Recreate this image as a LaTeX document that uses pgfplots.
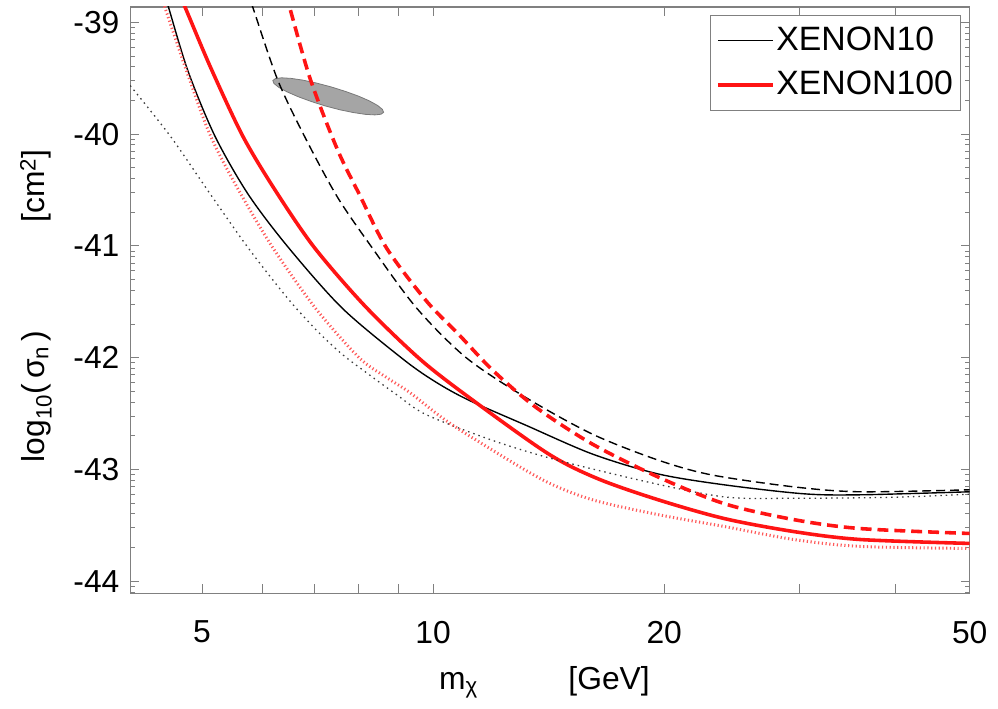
\documentclass[border=0pt]{standalone}
\usepackage{fontspec}
\setmainfont{Liberation Sans}
\usepackage{pgfplots}
\pgfplotsset{compat=1.18}
\definecolor{axgray}{RGB}{128,128,128}
\definecolor{ellfill}{RGB}{165,165,165}
\definecolor{elledge}{RGB}{120,120,120}
\definecolor{xred}{RGB}{255,20,20}
\definecolor{xreddot}{RGB}{255,90,90}
\definecolor{blkdot}{RGB}{60,60,60}
\begin{document}
\fontsize{32}{38}\selectfont
\begin{tikzpicture}
\begin{axis}[
  scale only axis, width=845pt, height=590pt,
  xmode=log, xmin=4.03, xmax=50, ymin=-44.107, ymax=-38.862,
  axis line style={axgray, line width=1.3pt},
  tick style={axgray, line width=1pt},
  tick align=inside,
  xtick={5,6,7,8,9,10,20,30,40,50},
  xticklabels={5,,,,,10,20,,,50},
  minor xtick={},
  ytick={-44,-43,-42,-41,-40,-39},
  yticklabels={-44,-43,-42,-41,-40,-39},
  minor ytick={-44.09691,-44.04576,
    -43.69897,-43.52288,-43.39794,-43.30103,-43.22185,-43.15490,-43.09691,-43.04576,
    -42.69897,-42.52288,-42.39794,-42.30103,-42.22185,-42.15490,-42.09691,-42.04576,
    -41.69897,-41.52288,-41.39794,-41.30103,-41.22185,-41.15490,-41.09691,-41.04576,
    -40.69897,-40.52288,-40.39794,-40.30103,-40.22185,-40.15490,-40.09691,-40.04576,
    -39.69897,-39.52288,-39.39794,-39.30103,-39.22185,-39.15490,-39.09691,-39.04576},
  major tick length=9pt, minor tick length=4.5pt,
  tick label style={font=\fontsize{32}{38}\selectfont},
  xticklabel style={yshift=-17pt},
  xlabel={m\textsubscript{χ}\hspace{2.85em}[GeV]},
  xlabel style={at={(axis description cs:0.4935,-0.1644)}, anchor=base},
  ylabel={log\textsubscript{10}(\,σ\textsubscript{n}\,)\hspace{3.4em}[cm\textsuperscript{2}]},
  ylabel style={at={(axis description cs:-0.1018,0.49)}, anchor=base},
  label style={font=\fontsize{32}{38}\selectfont},
  legend style={at={(axis description cs:0.990,0.986)}, anchor=north east,
    draw=axgray, line width=1pt, font=\fontsize{34}{40}\selectfont,
    inner xsep=6pt, inner ysep=9pt, row sep=12pt},
  legend cell align=left,
  legend image code/.code={\draw[#1] (0pt,0pt) -- (55pt,0pt);},
  clip=true,
]
% gray ellipse
\addplot[fill=ellfill, draw=elledge, line width=0.8pt, forget plot] coordinates {
(8.618,-39.805) (8.552,-39.822) (8.393,-39.828) (8.162,-39.823) (7.875,-39.807)
(7.559,-39.782) (7.239,-39.748) (6.937,-39.708) (6.670,-39.665) (6.453,-39.622)
(6.296,-39.582) (6.204,-39.547) (6.183,-39.520) (6.231,-39.503) (6.347,-39.496)
(6.528,-39.501) (6.767,-39.517) (7.047,-39.543) (7.360,-39.577) (7.681,-39.617)
(7.988,-39.659) (8.256,-39.702) (8.463,-39.743) (8.587,-39.778) (8.618,-39.805)
} -- cycle;
% XENON10 solid
\addplot[black, line width=1.4pt, smooth, tension=0.5] coordinates {
(4.40,-38.60) (4.52,-38.862) (4.796,-39.44) (5.197,-40.018) (5.735,-40.533)
(6.46,-41.004) (7.61,-41.556) (9.155,-42.018) (10.10,-42.222) (11.14,-42.382)
(13.20,-42.604) (16.12,-42.862) (19.63,-43.040) (23.96,-43.138) (30.4,-43.218)
(36.0,-43.227) (50,-43.20)
};
\addlegendentry{XENON10}
% XENON100 solid
\addplot[xred, line width=3.6pt, smooth, tension=0.5] coordinates {
(4.57,-38.60) (4.75,-38.862) (5.13,-39.404) (5.65,-40.018) (6.233,-40.507)
(7.00,-41.013) (8.15,-41.538) (9.63,-42.018) (11.27,-42.382) (14.14,-42.862)
(16.4,-43.084) (19.63,-43.271) (23.96,-43.44) (29.5,-43.556) (36.0,-43.627)
(50,-43.662)
};
\addlegendentry{XENON100}
% XENON10 dotted
\addplot[blkdot, line width=1.3pt, dash pattern=on 1.5pt off 4pt, smooth, tension=0.5, forget plot] coordinates {
(4.03,-39.565) (4.546,-40.018) (5.09,-40.507) (5.735,-41.013) (6.46,-41.467)
(7.07,-41.764) (7.61,-41.969) (8.20,-42.138) (8.97,-42.333) (9.80,-42.511)
(11.97,-42.742) (14.57,-42.92) (19.63,-43.133) (24.17,-43.249) (29.5,-43.258)
(39.76,-43.249) (50,-43.222)
};
% XENON100 dotted
\addplot[xreddot, line width=3pt, dash pattern=on 1.2pt off 2.6pt, smooth, tension=0.5, forget plot] coordinates {
(4.34,-38.60) (4.47,-38.862) (4.80,-39.484) (5.13,-40.018) (5.567,-40.489)
(6.178,-41.013) (7.024,-41.556) (8.007,-42.0) (8.70,-42.178) (9.32,-42.311)
(10.25,-42.533) (11.27,-42.72) (13.89,-43.093) (16.12,-43.271) (19.63,-43.404)
(23.96,-43.511) (29.5,-43.627) (36.0,-43.689) (50,-43.707)
};
% XENON10 dashed
\addplot[black, line width=1.4pt, dash pattern=on 9pt off 5pt, smooth, tension=0.5, forget plot] coordinates {
(5.65,-38.60) (5.82,-38.862) (6.27,-39.511) (6.797,-40.018) (7.50,-40.56)
(8.32,-41.013) (9.515,-41.556) (11.04,-42.0) (13.20,-42.356) (16.12,-42.684)
(19.63,-42.916) (23.05,-43.049) (29.5,-43.156) (36.0,-43.20) (50,-43.182)
};
% XENON100 dashed
\addplot[xred, line width=3.6pt, dash pattern=on 11pt off 6pt, smooth, tension=0.5, forget plot] coordinates {
(6.34,-38.60) (6.50,-38.862) (6.92,-39.511) (7.50,-40.133) (8.03,-40.551)
(8.70,-41.022) (9.80,-41.493) (10.81,-41.796) (11.97,-42.116) (13.61,-42.444)
(16.12,-42.773) (19.63,-43.067) (23.96,-43.307) (29.5,-43.449) (36.0,-43.529)
(50,-43.573)
};
\end{axis}
\path ([xshift=-131pt,yshift=-111pt]current axis.south west) rectangle ([xshift=22pt,yshift=7pt]current axis.north east);
\end{tikzpicture}
\end{document}
